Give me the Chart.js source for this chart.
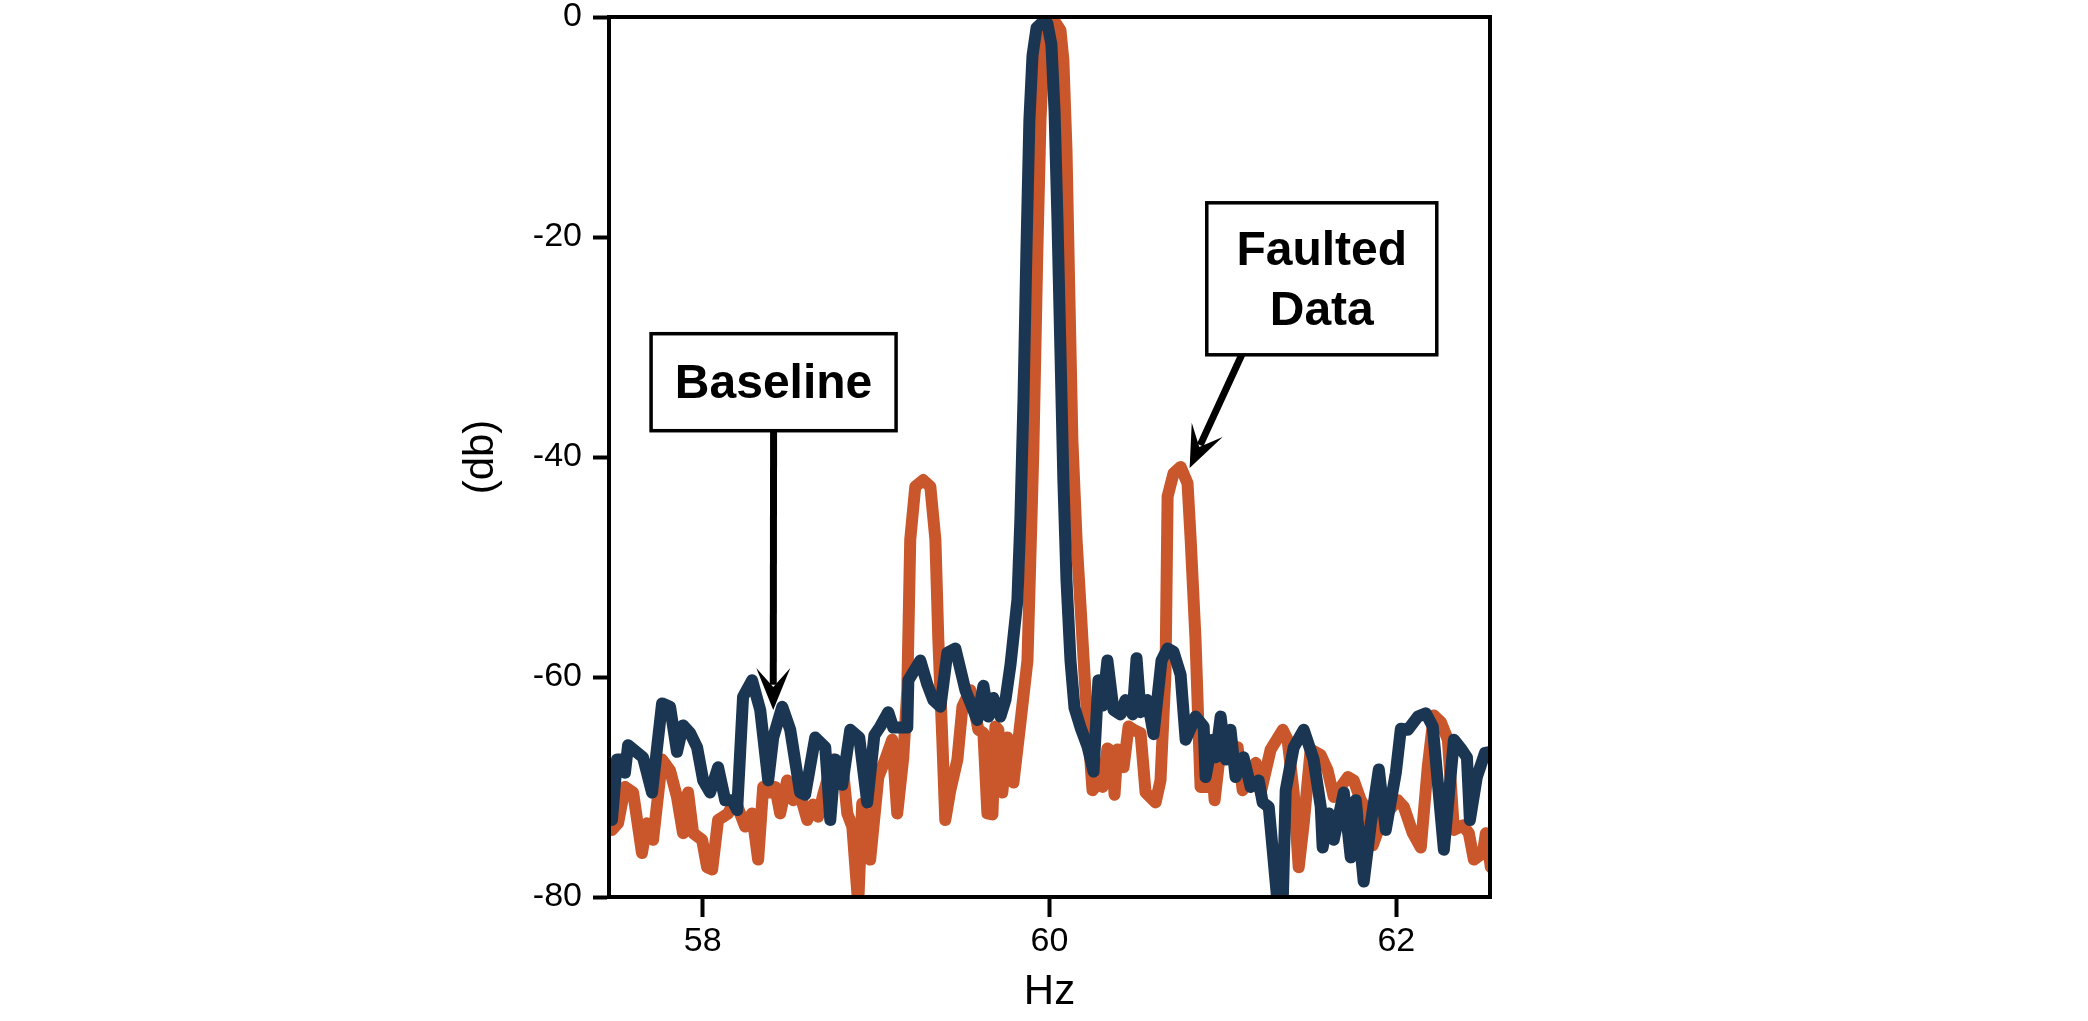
<!DOCTYPE html>
<html>
<head>
<meta charset="utf-8">
<script src="https://cdn.jsdelivr.net/npm/chart.js@4.4.1/dist/chart.umd.min.js"></script>
<style>
  html, body { margin: 0; padding: 0; background: #ffffff; }
  #graficaEspectro { display: block; }
</style>
</head>
<body>
<canvas id="graficaEspectro" width="2088" height="1021"></canvas>
<script>
/* DATOS: linea base (azul) */
const hzBase = [
  57.477, 57.506, 57.535, 57.552, 57.570, 57.656, 57.708, 57.766, 57.812, 57.852,
  57.887, 57.928, 57.968, 58.003, 58.043, 58.089, 58.130, 58.170, 58.199, 58.233,
  58.285, 58.332, 58.378, 58.407, 58.459, 58.505, 58.562, 58.591, 58.649, 58.707,
  58.736, 58.764, 58.805, 58.851, 58.903, 58.949, 58.990, 59.024, 59.070, 59.099,
  59.180, 59.186, 59.255, 59.296, 59.330, 59.371, 59.411, 59.457, 59.480, 59.515,
  59.584, 59.619, 59.648, 59.676, 59.717, 59.746, 59.775, 59.815, 59.832, 59.850,
  59.867, 59.884, 59.902, 59.925, 59.959, 59.988, 60.011, 60.029, 60.046, 60.063,
  60.080, 60.098, 60.121, 60.144, 60.179, 60.219, 60.254, 60.282, 60.306, 60.334,
  60.369, 60.409, 60.438, 60.479, 60.502, 60.525, 60.565, 60.600, 60.646, 60.681,
  60.715, 60.756, 60.785, 60.842, 60.889, 60.900, 60.941, 60.958, 60.987, 61.016,
  61.044, 61.073, 61.119, 61.160, 61.206, 61.229, 61.264, 61.316, 61.345, 61.362,
  61.408, 61.466, 61.523, 61.564, 61.575, 61.610, 61.639, 61.697, 61.737, 61.766,
  61.812, 61.853, 61.899, 61.939, 61.997, 62.026, 62.066, 62.124, 62.170, 62.210,
  62.274, 62.332, 62.372, 62.407, 62.424, 62.464, 62.511, 62.545
];
const dbBase = [
  -73.0, -67.5, -67.5, -68.7, -66.2, -67.3, -70.5, -62.4, -62.7, -66.8,
  -64.4, -65.1, -66.4, -69.4, -70.5, -68.2, -71.2, -71.2, -72.1, -61.8,
  -60.3, -63.0, -69.4, -65.5, -62.7, -64.8, -70.5, -70.7, -65.5, -66.4,
  -73.0, -67.5, -69.8, -64.8, -65.5, -71.4, -65.3, -64.5, -63.2, -64.6,
  -64.6, -60.3, -58.5, -60.7, -62.1, -62.7, -57.8, -57.4, -58.9, -61.2,
  -63.9, -60.8, -63.6, -61.9, -63.6, -62.1, -58.9, -53.0, -45.7, -34.8,
  -21.2, -9.4, -3.5, -1.0, -0.5, -0.6, -2.5, -8.5, -18.5, -30.3,
  -42.1, -51.2, -58.5, -62.8, -64.6, -66.3, -68.6, -60.3, -62.6, -58.5,
  -63.0, -63.4, -62.1, -63.4, -58.3, -63.2, -62.1, -65.2, -58.5, -57.4,
  -57.7, -59.8, -65.7, -63.6, -64.5, -69.1, -65.7, -67.3, -63.6, -67.5,
  -64.8, -69.1, -67.3, -70.0, -69.4, -71.4, -71.8, -80.7, -80.3, -70.3,
  -66.4, -64.8, -67.5, -71.8, -75.5, -72.4, -74.8, -70.5, -76.4, -71.2,
  -78.6, -73.3, -68.4, -73.9, -68.7, -64.7, -64.8, -63.6, -63.3, -64.5,
  -75.7, -65.7, -66.5, -67.3, -73.0, -69.1, -66.9, -66.8
];

/* DATOS: con falla (naranja) */
const hzFalla = [
  57.477, 57.512, 57.552, 57.599, 57.650, 57.679, 57.714, 57.766, 57.812, 57.852,
  57.887, 57.916, 57.945, 57.997, 58.026, 58.055, 58.089, 58.147, 58.187, 58.245,
  58.285, 58.320, 58.349, 58.389, 58.418, 58.447, 58.487, 58.522, 58.562, 58.603,
  58.637, 58.666, 58.695, 58.753, 58.811, 58.834, 58.863, 58.897, 58.920, 58.966,
  59.013, 59.053, 59.093, 59.122, 59.157, 59.180, 59.197, 59.226, 59.272, 59.313,
  59.342, 59.359, 59.382, 59.399, 59.428, 59.469, 59.498, 59.544, 59.590, 59.619,
  59.642, 59.671, 59.688, 59.705, 59.728, 59.757, 59.792, 59.832, 59.873, 59.907,
  59.930, 59.948, 59.965, 59.988, 60.034, 60.063, 60.080, 60.098, 60.115, 60.132,
  60.156, 60.179, 60.207, 60.248, 60.282, 60.306, 60.334, 60.363, 60.375, 60.392,
  60.427, 60.456, 60.484, 60.525, 60.554, 60.612, 60.640, 60.669, 60.681, 60.715,
  60.756, 60.796, 60.814, 60.842, 60.860, 60.871, 60.912, 60.941, 60.952, 60.987,
  61.033, 61.085, 61.114, 61.189, 61.218, 61.275, 61.345, 61.373, 61.408, 61.437,
  61.466, 61.506, 61.564, 61.604, 61.639, 61.720, 61.754, 61.795, 61.841, 61.864,
  61.922, 62.008, 62.043, 62.095, 62.141, 62.181, 62.216, 62.257, 62.297, 62.332,
  62.384, 62.418, 62.447, 62.499, 62.516, 62.545
];
const dbFalla = [
  -73.9, -73.3, -70.0, -70.5, -76.0, -73.3, -74.8, -67.5, -68.5, -70.9,
  -74.2, -70.5, -74.2, -74.8, -77.3, -77.5, -73.0, -72.4, -71.2, -73.6,
  -72.4, -76.6, -70.0, -70.5, -70.0, -72.4, -69.4, -71.2, -70.7, -73.0,
  -71.6, -72.7, -70.7, -67.5, -68.7, -72.4, -73.6, -80.7, -71.5, -76.6,
  -69.1, -67.5, -65.7, -72.4, -67.3, -61.2, -47.5, -42.7, -42.1, -42.7,
  -47.5, -56.6, -65.7, -73.0, -70.3, -67.5, -62.7, -61.2, -64.8, -65.1,
  -72.4, -72.5, -64.5, -64.8, -70.5, -65.5, -69.6, -64.2, -58.5, -39.4,
  -21.2, -9.4, -3.5, -0.7, -0.5, -1.2, -3.9, -12.1, -25.7, -38.5,
  -47.5, -53.6, -61.2, -70.3, -69.6, -70.0, -66.5, -66.8, -70.7, -66.6,
  -68.2, -64.5, -64.8, -65.1, -70.5, -71.4, -69.4, -59.6, -43.6, -41.5,
  -40.9, -42.4, -47.5, -56.6, -65.1, -70.0, -70.0, -68.7, -71.2, -66.4,
  -66.2, -66.4, -70.3, -67.8, -70.5, -66.6, -64.8, -65.7, -70.5, -77.3,
  -73.3, -66.6, -67.1, -68.5, -70.9, -69.1, -69.4, -71.2, -72.4, -75.3,
  -72.8, -71.2, -71.8, -74.2, -75.5, -68.2, -63.5, -64.1, -65.7, -73.9,
  -73.5, -74.2, -76.6, -76.0, -74.2, -77.3
];

/* EJES */
const ticksHz = [58, 60, 62];
const ticksDb = [0, -20, -40, -60, -80];

/* NOTAS (cajas con flecha) */
const notas = [
  { texto: ['Baseline'], hz: 58.409, db: -33.2, ancho: 245, alto: 97, salidaDx: 0, puntaHz: 58.407, puntaDb: -63.0 },
  { texto: ['Faulted', 'Data'], hz: 61.570, db: -23.8, ancho: 230, alto: 152, salidaDx: -80, puntaHz: 60.808, puntaDb: -41.0 }
];

const colorBase = '#1b3652';
const colorFalla = '#c9572b';
const fuente = '"Liberation Sans", Arial, sans-serif';

function armarPuntos(listaHz, listaDb) {
  return listaHz.map((f, i) => ({ x: f, y: listaDb[i] }));
}

function dibujarFlecha(ctx, x0, y0, x1, y1) {
  const largo = Math.hypot(x1 - x0, y1 - y0);
  const ux = (x1 - x0) / largo, uy = (y1 - y0) / largo;
  const px = -uy, py = ux;
  const cabeza = 42, mitad = 17;
  ctx.beginPath();
  ctx.moveTo(x0, y0);
  ctx.lineTo(x1 - ux * cabeza * 0.6, y1 - uy * cabeza * 0.6);
  ctx.lineWidth = 7;
  ctx.stroke();
  ctx.beginPath();
  ctx.moveTo(x1, y1);
  ctx.lineTo(x1 - ux * cabeza + px * mitad, y1 - uy * cabeza + py * mitad);
  ctx.lineTo(x1 - ux * cabeza * 0.55, y1 - uy * cabeza * 0.55);
  ctx.lineTo(x1 - ux * cabeza - px * mitad, y1 - uy * cabeza - py * mitad);
  ctx.closePath();
  ctx.fill();
}

const marcoYNotas = {
  id: 'marcoYNotas',
  afterDatasetsDraw(chart) {
    const { ctx, chartArea: a, scales: { x, y } } = chart;
    ctx.save();
    ctx.strokeStyle = '#000';
    ctx.fillStyle = '#000';
    ctx.lineWidth = 4;
    ctx.strokeRect(a.left, a.top, a.right - a.left, a.bottom - a.top);

    notas.forEach(n => {
      const cx = x.getPixelForValue(n.hz);
      const cy = y.getPixelForValue(n.db);
      const tx = x.getPixelForValue(n.puntaHz);
      const ty = y.getPixelForValue(n.puntaDb);
      ctx.strokeStyle = '#000';
      ctx.fillStyle = '#000';
      dibujarFlecha(ctx, cx + n.salidaDx, cy + n.alto / 2, tx, ty);

      ctx.fillStyle = '#fff';
      ctx.fillRect(cx - n.ancho / 2, cy - n.alto / 2, n.ancho, n.alto);
      ctx.lineWidth = 3.5;
      ctx.strokeRect(cx - n.ancho / 2, cy - n.alto / 2, n.ancho, n.alto);

      ctx.fillStyle = '#000';
      ctx.font = 'bold 48px ' + fuente;
      ctx.textAlign = 'center';
      ctx.textBaseline = 'alphabetic';
      const primera = cy - (n.texto.length - 1) * 30 + 16;
      n.texto.forEach((linea, i) => ctx.fillText(linea, cx, primera + i * 60));
    });
    ctx.restore();
  }
};

const grafica = document.querySelector('#graficaEspectro').getContext('2d');

new Chart(grafica, {
  type: 'line',
  data: {
    datasets: [
      {
        label: 'Baseline',
        data: armarPuntos(hzBase, dbBase),
        borderColor: colorBase,
        borderWidth: 12,
        pointRadius: 0,
        tension: 0,
        borderJoinStyle: 'round',
        borderCapStyle: 'round',
        clip: 0,
        order: 0
      },
      {
        label: 'Faulted Data',
        data: armarPuntos(hzFalla, dbFalla),
        borderColor: colorFalla,
        borderWidth: 12,
        pointRadius: 0,
        tension: 0,
        borderJoinStyle: 'round',
        borderCapStyle: 'round',
        clip: 0,
        order: 1
      }
    ]
  },
  options: {
    responsive: false,
    animation: false,
    devicePixelRatio: 1,
    layout: { padding: { left: 456, right: 598, top: 17, bottom: 3 } },
    plugins: {
      legend: { display: false },
      tooltip: { enabled: false }
    },
    scales: {
      x: {
        type: 'linear',
        min: 57.46,
        max: 62.54,
        afterBuildTicks: s => { s.ticks = ticksHz.map(v => ({ value: v })); },
        afterFit: s => { s.height = 121; },
        border: { display: true, color: '#000', width: 4 },
        grid: { display: true, drawOnChartArea: false, drawTicks: true, tickLength: 20, tickWidth: 4, tickColor: '#000' },
        ticks: { color: '#000', padding: 8, maxRotation: 0, font: { size: 34, family: fuente, lineHeight: 1 } },
        title: { display: true, text: 'Hz', color: '#000', padding: 0, font: { size: 42, family: fuente, lineHeight: 1.2 } }
      },
      y: {
        type: 'linear',
        min: -80,
        max: 0,
        afterBuildTicks: s => { s.ticks = ticksDb.map(v => ({ value: v })); },
        afterFit: s => { s.width = 153; },
        border: { display: true, color: '#000', width: 4 },
        grid: { display: true, drawOnChartArea: false, drawTicks: true, tickLength: 16, tickWidth: 4, tickColor: '#000' },
        ticks: { color: '#000', padding: 11, font: { size: 34, family: fuente, lineHeight: 0.2 } },
        title: { display: true, text: '(db)', color: '#000', padding: 0, font: { size: 42, family: fuente, lineHeight: 1.2 } }
      }
    }
  },
  plugins: [marcoYNotas]
});
</script>
</body>
</html>
